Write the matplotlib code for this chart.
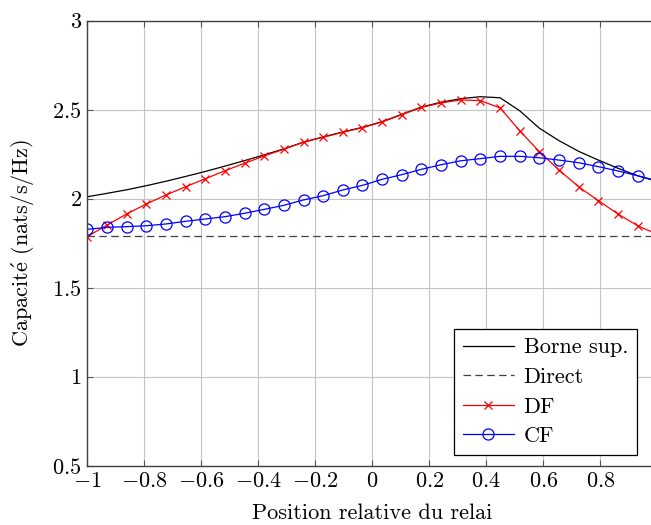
import numpy as np
import matplotlib
matplotlib.use('Agg')
import matplotlib.pyplot as plt

plt.rcParams['font.family'] = 'serif'
plt.rcParams['font.serif'] = ['cmr10']
plt.rcParams['mathtext.fontset'] = 'cm'
plt.rcParams['axes.unicode_minus'] = False
plt.rcParams['font.size'] = 16

# Data (30 relay positions)
position = np.linspace(-1, 1, 30)

borne_sup = [2.011, 2.030, 2.050, 2.073, 2.098, 2.125, 2.153, 2.183, 2.214, 2.246,
             2.280, 2.318, 2.347, 2.375, 2.401, 2.433, 2.474, 2.515, 2.542, 2.562,
             2.573, 2.567, 2.494, 2.396, 2.326, 2.266, 2.217, 2.171, 2.129, 2.100]
direct = [1.79] * 30
df = [1.787, 1.852, 1.914, 1.970, 2.021, 2.067, 2.112, 2.157, 2.199, 2.240,
      2.278, 2.317, 2.345, 2.373, 2.399, 2.431, 2.472, 2.513, 2.538, 2.555,
      2.551, 2.510, 2.382, 2.264, 2.161, 2.067, 1.989, 1.914, 1.848, 1.800]
cf = [1.828, 1.839, 1.843, 1.848, 1.858, 1.873, 1.886, 1.899, 1.918, 1.940,
      1.963, 1.993, 2.017, 2.049, 2.075, 2.109, 2.135, 2.165, 2.191, 2.213,
      2.225, 2.238, 2.238, 2.230, 2.217, 2.202, 2.180, 2.156, 2.129, 2.096]

xticks = [-1, -0.8, -0.6, -0.4, -0.2, 0, 0.2, 0.4, 0.6, 0.8, 1]
xticklabels = ['$-1$', '$-0.8$', '$-0.6$', '$-0.4$', '$-0.2$', '$0$',
               '$0.2$', '$0.4$', '$0.6$', '$0.8$', '$1$']
yticks = [0.5, 1, 1.5, 2, 2.5, 3]
yticklabels = ['$0.5$', '$1$', '$1.5$', '$2$', '$2.5$', '$3$']

fig = plt.figure(figsize=(6.51, 5.25), dpi=100)
# axes run slightly past the right edge, as in the reference
ax = fig.add_axes([87.3 / 651, 59.3 / 525, 570 / 651, 445 / 525])

ax.plot(position, borne_sup, color='k', lw=0.9, label='Borne sup.')
ax.plot(position, direct, color='#404040', lw=0.9, ls=(0, (6, 3.5)), label='Direct')
ax.plot(position, df, color='red', lw=0.9, marker='x', ms=6, mew=0.9, label='DF')
ax.plot(position, cf, color='blue', lw=0.9, marker='o', ms=8, mew=0.9,
        mfc='none', label='CF')

ax.set_xlim(-1, 1)
ax.set_ylim(0.5, 3)
ax.set_xticks(xticks)
ax.set_xticklabels(xticklabels)
ax.set_yticks(yticks)
ax.set_yticklabels(yticklabels)
ax.grid(True, color='#c4c4c4', lw=0.8)
ax.tick_params(direction='in', length=4, width=0.8, color='#555555',
               top=True, right=True, labelsize=16, pad=4)
for s in ax.spines.values():
    s.set_color('#404040')
    s.set_linewidth(1.0)

ax.set_xlabel('Position relative du relai', fontsize=16, labelpad=9)
ax.set_ylabel(r'Capacit$\acute{\mathrm{e}}$ (nats/s/Hz)', fontsize=16, labelpad=11)

leg = ax.legend(loc='lower right', bbox_to_anchor=(637 / 651, 70 / 525),
                bbox_transform=fig.transFigure, borderaxespad=0, numpoints=1,
                fancybox=False, framealpha=1, edgecolor='k', fontsize=16,
                handlelength=2.3, handletextpad=0.45, labelspacing=0.45,
                borderpad=0.4)
leg.get_frame().set_linewidth(0.9)

fig.savefig('out.png', dpi=100)
